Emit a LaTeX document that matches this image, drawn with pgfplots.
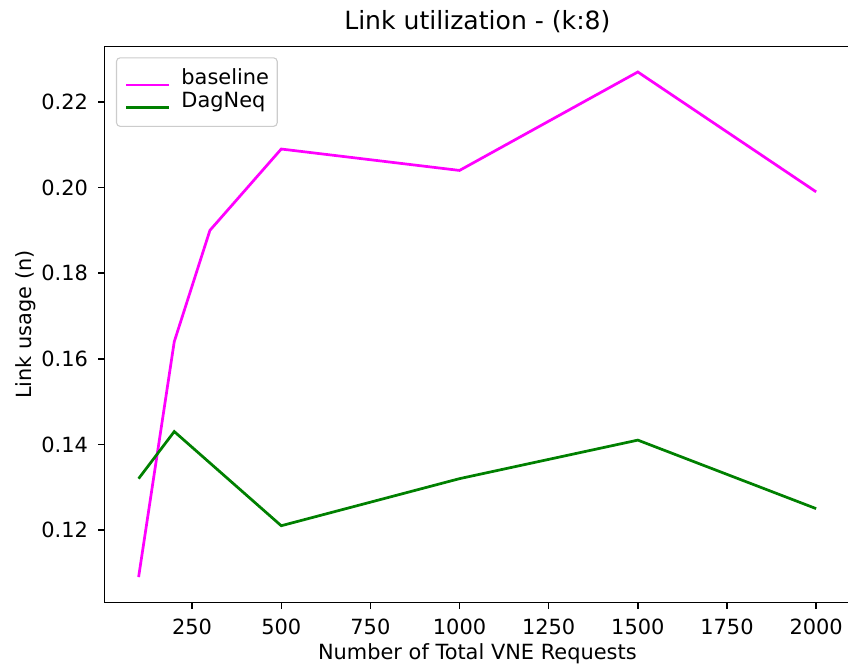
\documentclass[border=0pt]{standalone}
\usepackage{fontspec}
\setmainfont{DejaVu Sans}
\usepackage{pgfplots}
\pgfplotsset{compat=1.18}

\definecolor{mplmagenta}{RGB}{255,0,255}
\definecolor{mplgreen}{RGB}{0,128,0}
\definecolor{legendedge}{RGB}{204,204,204}

\newcommand{\labelfont}{\fontsize{11.5}{13.8}\selectfont}
\newcommand{\titlefont}{\fontsize{13.8}{16.5}\selectfont}

\begin{document}
\begin{tikzpicture}
\begin{axis}[
  name=ax,
  scale only axis,
  width=409.9pt, height=305.6pt,
  xmin=5, xmax=2095,
  ymin=0.1031, ymax=0.2329,
  xtick={250,500,...,2000},
  ytick={0.12,0.14,0.16,0.18,0.20,0.22},
  tick align=outside,
  major tick length=3.5pt,
  every tick/.style={black, line width=0.8pt},
  axis line style={line width=0.8pt},
  tick pos=left,
  /pgf/number format/assume math mode=true,
  x tick label style={/pgf/number format/1000 sep={}},
  y tick label style={/pgf/number format/fixed, /pgf/number format/fixed zerofill, /pgf/number format/precision=2},
  xticklabel style={anchor=base, inner sep=0pt, yshift=-14.1pt, font=\labelfont},
  yticklabel style={anchor=east, inner sep=0pt, xshift=-5.5pt, font=\labelfont},
  every axis title shift=0pt,
  title={Link utilization - (k:8)},
  title style={at={(axis description cs:0.5,1.0301)}, anchor=base, inner sep=0pt, font=\titlefont},
  xlabel={Number of Total VNE Requests},
  xlabel style={at={(axis description cs:0.5,-0.1021)}, anchor=base, inner sep=0pt, font=\labelfont},
  ylabel={Link usage (n)},
  ylabel style={at={(axis description cs:-0.0983,0.5)}, anchor=base, inner sep=0pt, font=\labelfont},
  legend style={
    at={(axis description cs:0,1)}, anchor=north west,
    xshift=6.2pt, yshift=-5.8pt,
    draw=legendedge, line width=0.6pt, rounded corners=2pt,
    fill=white, fill opacity=0.8, text opacity=1,
    inner xsep=4.5pt, inner ysep=5.5pt,
    row sep=-1.5pt, column sep=6pt,
    nodes={inner sep=0pt, anchor=base west, text height=9.4pt, text depth=4.7pt},
    font=\labelfont,
  },
  legend cell align=left,
  legend image code/.code={\draw[#1] (0pt,0pt) -- (23.7pt,0pt);},
]
\addplot[mplmagenta, line width=1.5pt] coordinates {
  (100,0.109) (200,0.164) (300,0.190) (500,0.209)
  (1000,0.204) (1500,0.227) (2000,0.199)
};
\addlegendentry{baseline}
\addplot[mplgreen, line width=1.5pt] coordinates {
  (100,0.132) (200,0.143) (500,0.121)
  (1000,0.132) (1500,0.141) (2000,0.125)
};
\addlegendentry{DagNeq}
\end{axis}
\pgfresetboundingbox
\path ([xshift=-57.6pt, yshift=-37.8pt]ax.south west)
  rectangle ([xshift=408.8pt, yshift=25.7pt]ax.north west);
\end{tikzpicture}
\end{document}
